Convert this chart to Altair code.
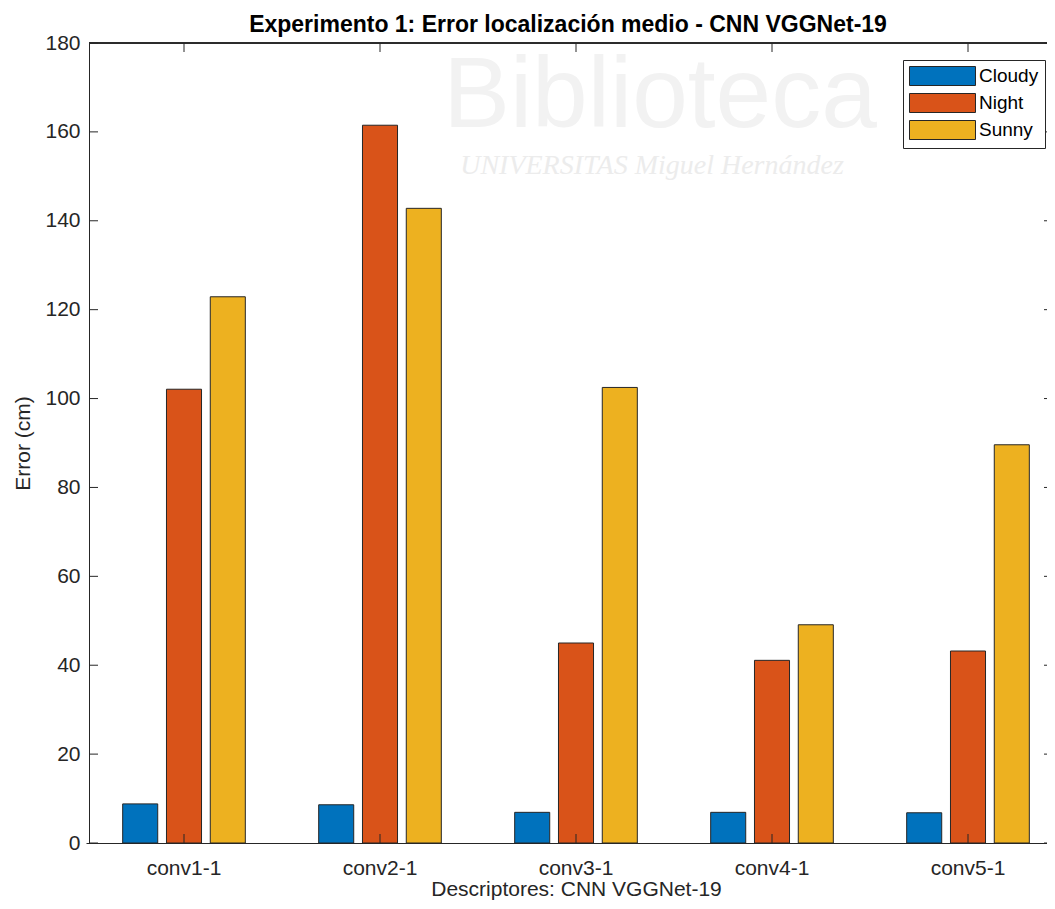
import altair as alt
import pandas as pd

# ---- data ----
categories = ["conv1-1", "conv2-1", "conv3-1", "conv4-1", "conv5-1"]
series = ["Cloudy", "Night", "Sunny"]
cloudy = [8.8, 8.6, 6.9, 6.9, 6.8]
night = [102.1, 161.5, 45.0, 41.1, 43.2]
sunny = [122.9, 142.8, 102.5, 49.1, 89.6]
colors = ["#0072BD", "#D95319", "#EDB120"]
y_ticks = [0, 20, 40, 60, 80, 100, 120, 140, 160, 180]
watermark = ["Biblioteca", "UNIVERSITAS Miguel Hernández"]

title_text = "Experimento 1: Error localización medio - CNN VGGNet-19"
x_title = "Descriptores: CNN VGGNet-19"
y_title = "Error (cm)"

rows = []
for i, c in enumerate(categories):
    for s, vals in zip(series, [cloudy, night, sunny]):
        rows.append({"cat": c, "series": s, "value": vals[i]})
df = pd.DataFrame(rows)
ytick_df = pd.DataFrame({"value": y_ticks})
xtick_df = pd.DataFrame({"cat": categories})

W, H = 958, 800
FONT = "Liberation Sans"
DARK = "#262626"

x_scale = alt.Scale(domain=categories, range=[-3, 977], paddingInner=0, paddingOuter=0)
y_scale = alt.Scale(domain=[0, 180], nice=False, zero=True)

x_axis = alt.Axis(title=x_title, labelAngle=0, ticks=False, tickSize=0,
                  labelPadding=14, titlePadding=0, domainColor=DARK,
                  labelColor=DARK, titleColor=DARK, labelFontSize=21,
                  titleFontSize=21, titleFontWeight="normal", labelFont=FONT,
                  titleFont=FONT, grid=False)
y_axis = alt.Axis(title=y_title, values=y_ticks, ticks=False, tickSize=0,
                  labelPadding=9, titlePadding=11, grid=False, domainColor=DARK,
                  labelColor=DARK, titleColor=DARK, labelFontSize=21,
                  titleFontSize=21, titleFontWeight="normal", labelFont=FONT,
                  titleFont=FONT)

wm1 = alt.Chart(pd.DataFrame({"t": [watermark[0]]})).mark_text(
    font=FONT, fontSize=100, color="#f2f2f2", align="center", baseline="top", clip=True
).encode(text="t:N", x=alt.value(571), y=alt.value(5))

wm2 = alt.Chart(pd.DataFrame({"t": [watermark[1]]})).mark_text(
    font="Liberation Serif", fontSize=28, fontStyle="italic", color="#ececec",
    align="center", baseline="top", clip=True
).encode(text="t:N", x=alt.value(563), y=alt.value(109))

bars = alt.Chart(df).mark_bar(stroke=DARK, strokeWidth=1, opacity=1).encode(
    x=alt.X("cat:N", scale=x_scale, sort=categories, axis=x_axis),
    xOffset=alt.XOffset("series:N", sort=series,
                        scale=alt.Scale(domain=series, paddingInner=0.2, paddingOuter=0.8375)),
    y=alt.Y("value:Q", scale=y_scale, axis=y_axis),
    color=alt.Color("series:N", scale=alt.Scale(domain=series, range=colors),
                    legend=alt.Legend(title=None, orient="none", legendX=814, legendY=17,
                                      direction="vertical",
                                      symbolType="M-1,-1H5.947V1H-1Z", symbolSize=361,
                                      symbolStrokeColor=DARK, symbolStrokeWidth=1,
                                      symbolOpacity=1, labelFontSize=19, labelFont=FONT,
                                      labelColor="#000000", labelOffset=50, rowPadding=3,
                                      padding=6, strokeColor=DARK, fillColor="white")),
)

rule_kw = dict(color=DARK, strokeWidth=1)
top_border = alt.Chart(xtick_df).mark_rule(**rule_kw).encode(
    x=alt.value(0), x2=alt.value(W), y=alt.value(0))
ytick_left = alt.Chart(ytick_df).mark_rule(**rule_kw).encode(
    y=alt.Y("value:Q", scale=y_scale, axis=y_axis), x=alt.value(0), x2=alt.value(9))
ytick_right = alt.Chart(ytick_df).mark_rule(**rule_kw).encode(
    y=alt.Y("value:Q", scale=y_scale, axis=y_axis), x=alt.value(W - 3), x2=alt.value(W))
xtick_bottom = alt.Chart(xtick_df).mark_rule(**rule_kw).encode(
    x=alt.X("cat:N", scale=x_scale, axis=x_axis), y=alt.value(H), y2=alt.value(H - 9))
xtick_top = alt.Chart(xtick_df).mark_rule(**rule_kw).encode(
    x=alt.X("cat:N", scale=x_scale, axis=x_axis), y=alt.value(0), y2=alt.value(9))

chart = alt.layer(wm1, wm2, bars, top_border, ytick_left, ytick_right,
                  xtick_bottom, xtick_top).properties(
    width=W, height=H,
    title=alt.TitleParams(text=title_text, fontSize=23, fontWeight="bold", color="#000000",
                          font=FONT, anchor="middle", offset=0, dy=5),
    autosize=alt.AutoSizeParams(type="none"),
    padding={"left": 81, "top": 35, "right": 0, "bottom": 57},
    background="white",
).configure_view(strokeWidth=0).configure(font=FONT).configure_legend(cornerRadius=0)

chart.save("out.html", embed_options={"renderer": "svg", "actions": False})
